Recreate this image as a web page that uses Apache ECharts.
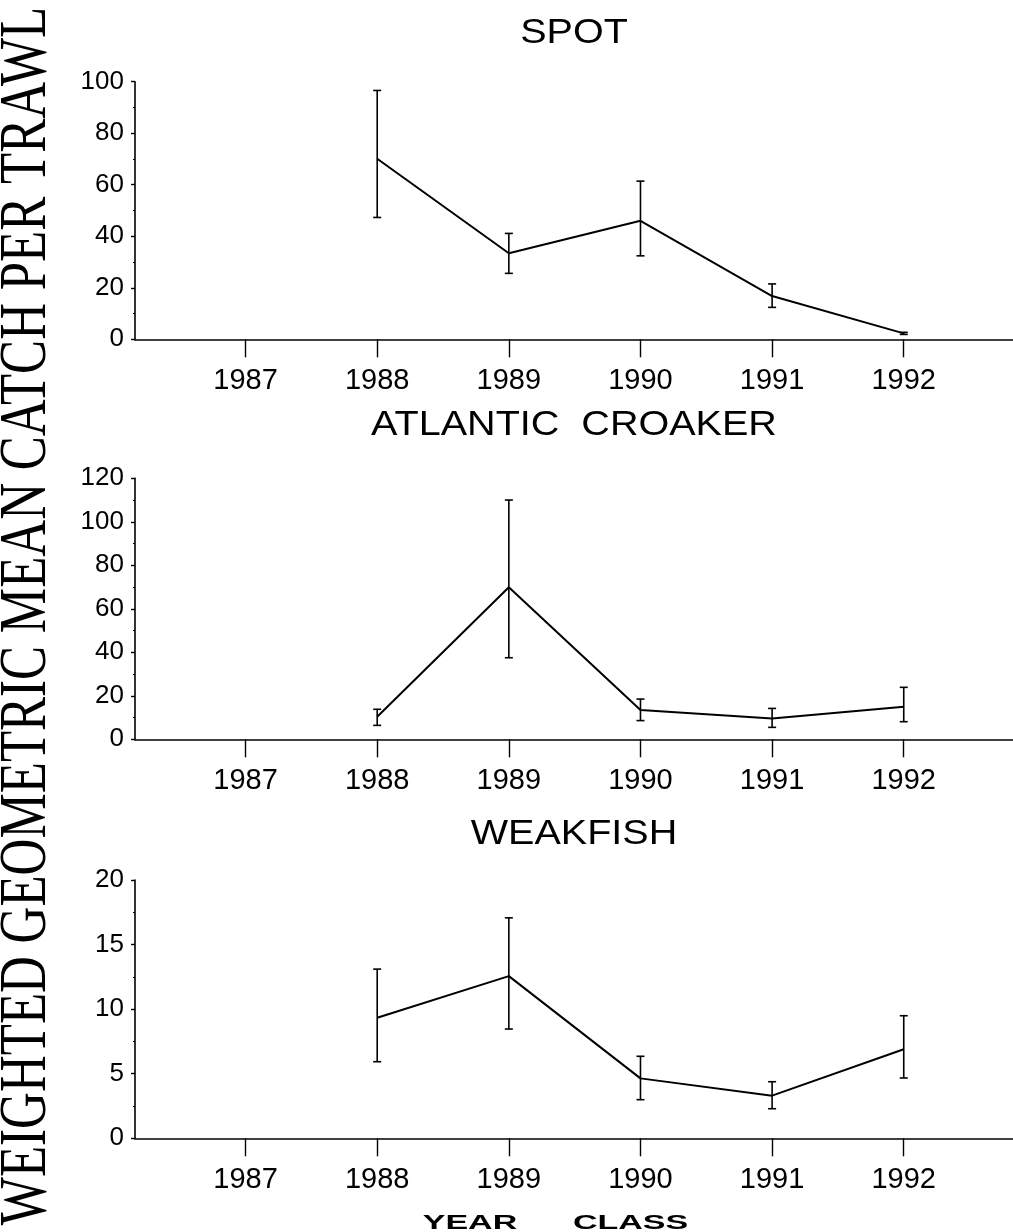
<!DOCTYPE html>
<html>
<head>
<meta charset="utf-8">
<title>Weighted geometric mean catch per trawl by year class</title>
<script src="https://cdn.jsdelivr.net/npm/echarts@6/dist/echarts.min.js"></script>
<style>
  html, body { margin: 0; padding: 0; background: #fff; }
  #chart { width: 1013px; height: 1232px; }
</style>
</head>
<body>
<div id="chart"></div>
<script>
// Year classes and axis tick years
const years = [1988, 1989, 1990, 1991, 1992];
const tickYears = [1987, 1988, 1989, 1990, 1991, 1992];

// Spot
const spotMean = [70.1, 33.4, 46.0, 16.8, 2.3];
const spotLow  = [47.3, 25.6, 32.4, 12.4, 1.9];
const spotHigh = [96.6, 41.1, 61.4, 21.5, 2.7];

// Atlantic croaker
const croakerMean = [10.4, 69.9, 13.5, 9.6, 15.0];
const croakerLow  = [6.4, 37.5, 8.6, 5.5, 8.1];
const croakerHigh = [13.8, 110.0, 18.5, 14.2, 23.9];

// Weakfish
const weakMean = [9.33, 12.56, 4.64, 3.30, 6.89];
const weakLow  = [5.93, 8.46, 2.99, 2.29, 4.67];
const weakHigh = [13.1, 17.07, 6.35, 4.38, 9.49];

// Panel titles and y-axis ranges
const panelTitles = ['SPOT', 'ATLANTIC  CROAKER', 'WEAKFISH'];
const yMax = [100, 120, 20];
const yStep = [20, 20, 5];

const INK = '#000';
const SANS = '"Liberation Sans", Arial, Helvetica, sans-serif';

const panels = [
  { mean: spotMean, low: spotLow, high: spotHigh, top: 81.7, height: 257.6, titleY: 33 },
  { mean: croakerMean, low: croakerLow, high: croakerHigh, top: 478.3, height: 261, titleY: 425 },
  { mean: weakMean, low: weakLow, high: weakHigh, top: 880, height: 258.3, titleY: 834 }
];

const grid = panels.map(p => ({ left: 135, right: 0, top: p.top, height: p.height }));

const xAxis = panels.map((p, i) => ({
  type: 'value',
  gridIndex: i,
  min: 1986.16,
  max: 1992.83,
  axisLine: { show: true, onZero: false, lineStyle: { color: INK, width: 1.7 } },
  axisTick: { show: true, length: 18, lineStyle: { color: INK, width: 1.4 }, customValues: tickYears },
  axisLabel: {
    show: true, color: INK, fontFamily: SANS, fontSize: 29, margin: 27,
    customValues: tickYears,
    formatter: v => String(Math.round(v))
  },
  splitLine: { show: false }
}));

const yAxis = panels.map((p, i) => ({
  type: 'value',
  gridIndex: i,
  min: 0,
  max: yMax[i],
  interval: yStep[i],
  axisLine: { show: true, lineStyle: { color: INK, width: 1.6 } },
  axisTick: { show: true, length: 4, lineStyle: { color: INK, width: 1.4 } },
  minorTick: { show: true, splitNumber: 2, length: 2, lineStyle: { color: INK, width: 1 } },
  axisLabel: { color: INK, fontFamily: SANS, fontSize: 26, margin: 11 },
  splitLine: { show: false }
}));

// Vertical error bar with short caps
function errorBar(params, api) {
  const x = api.value(0);
  const lo = api.coord([x, api.value(1)]);
  const hi = api.coord([x, api.value(2)]);
  const cap = 4;
  const style = { stroke: INK, lineWidth: 1.6 };
  return {
    type: 'group',
    children: [
      { type: 'line', shape: { x1: lo[0], y1: lo[1], x2: hi[0], y2: hi[1] }, style },
      { type: 'line', shape: { x1: hi[0] - cap, y1: hi[1], x2: hi[0] + cap, y2: hi[1] }, style },
      { type: 'line', shape: { x1: lo[0] - cap, y1: lo[1], x2: lo[0] + cap, y2: lo[1] }, style }
    ]
  };
}

const series = [];
panels.forEach((p, i) => {
  series.push({
    type: 'line',
    xAxisIndex: i,
    yAxisIndex: i,
    data: years.map((y, k) => [y, p.mean[k]]),
    showSymbol: false,
    lineStyle: { color: INK, width: 2 },
    animation: false
  });
  series.push({
    type: 'custom',
    xAxisIndex: i,
    yAxisIndex: i,
    renderItem: errorBar,
    encode: { x: 0, y: [1, 2] },
    data: years.map((y, k) => [y, p.low[k], p.high[k]]),
    animation: false
  });
});

const graphic = [];
panels.forEach((p, i) => {
  graphic.push({
    type: 'text',
    x: 574,
    y: p.titleY,
    scaleX: 1.13,
    style: {
      text: panelTitles[i],
      font: '35px ' + SANS,
      fill: INK,
      align: 'center',
      verticalAlign: 'middle',
      textAlign: 'center',
      textVerticalAlign: 'middle'
    }
  });
});

// Shared y-axis title along the left edge
graphic.push({
  type: 'text',
  x: 27,
  y: 616,
  rotation: Math.PI / 2,
  scaleY: 1.33,
  style: {
    text: 'WEIGHTED GEOMETRIC MEAN CATCH PER TRAWL',
    font: '51px "Liberation Serif", "Times New Roman", serif',
    fill: INK,
    align: 'center',
    verticalAlign: 'middle',
    textAlign: 'center',
    textVerticalAlign: 'middle'
  }
});

// Shared x-axis title under the bottom panel
[['YEAR', 470], ['CLASS', 630.5]].forEach(([word, cx]) => {
  graphic.push({
    type: 'text',
    x: cx,
    y: 1223,
    scaleX: 1.7,
    style: {
      text: word,
      font: 'bold 20px ' + SANS,
      fill: INK,
      align: 'center',
      verticalAlign: 'middle',
      textAlign: 'center',
      textVerticalAlign: 'middle'
    }
  });
});

const chart = echarts.init(document.getElementById('chart'), null, { renderer: 'canvas' });
chart.setOption({
  backgroundColor: '#fff',
  animation: false,
  grid,
  xAxis,
  yAxis,
  series,
  graphic
});
</script>
</body>
</html>
